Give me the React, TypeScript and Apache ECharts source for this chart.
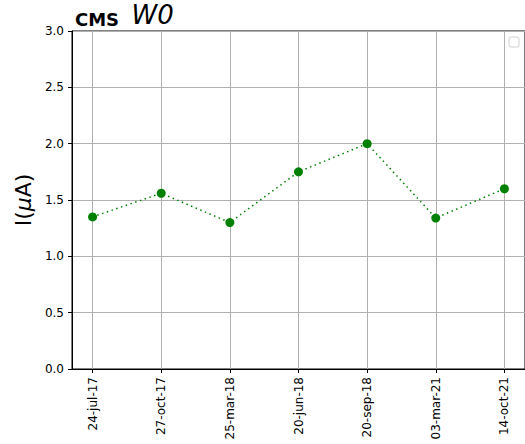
import React, { useEffect, useRef } from "react";
import * as echarts from "echarts";

const categories = ["24-jul-17", "27-oct-17", "25-mar-18", "20-jun-18", "20-sep-18", "03-mar-21", "14-oct-21"];
const values = [1.35, 1.56, 1.3, 1.75, 2.0, 1.34, 1.6];
const yTicks = [0, 0.5, 1.0, 1.5, 2.0, 2.5, 3.0];

export default function App() {
  const ref = useRef<HTMLDivElement>(null);
  useEffect(() => {
    document.body.style.margin = "0";
    if (!ref.current) return;
    const chart = echarts.init(ref.current, null, { renderer: "svg" });
    const idx = categories.map((_, i) => i);
    chart.setOption({
      animation: false,
      textStyle: { fontFamily: "DejaVu Sans" },
      title: {
        text: "{a|CMS}  {b|W0}",
        left: 75,
        top: 2,
        padding: 0,
        textStyle: {
          rich: {
            a: { fontFamily: "DejaVu Sans", fontWeight: "bold", fontSize: 18, color: "#000", verticalAlign: "bottom" },
            b: { fontFamily: "DejaVu Sans", fontStyle: "italic", fontWeight: "normal", fontSize: 26, color: "#000", verticalAlign: "bottom" },
          },
        },
      },
      grid: { left: 72, right: -1, top: 31, bottom: 75, show: true, borderColor: "#000", borderWidth: 1 },
      xAxis: {
        type: "value",
        min: -0.3,
        max: 6.3,
        axisLine: { show: true, onZero: false, lineStyle: { color: "#000" } },
        axisTick: { show: true, customValues: idx, length: 4, lineStyle: { color: "#000" } },
        axisLabel: {
          customValues: idx,
          rotate: 90,
          fontSize: 12,
          color: "#000",
          margin: 8,
          formatter: (v: number) => categories[Math.round(v)] ?? "",
        },
        splitLine: { show: true, lineStyle: { color: "#b0b0b0", width: 1 } },
      },
      yAxis: {
        type: "value",
        min: 0,
        max: 3,
        interval: 0.5,
        name: "{n|I(}{i|μ}{n|A)}",
        nameLocation: "middle",
        nameGap: 38,
        nameTextStyle: {
          rich: {
            n: { fontSize: 22, color: "#000", fontFamily: "DejaVu Sans" },
            i: { fontSize: 22, color: "#000", fontFamily: "DejaVu Sans", fontStyle: "italic" },
          },
        },
        axisLine: { show: true, onZero: false, lineStyle: { color: "#000" } },
        axisTick: { show: true, length: 4, lineStyle: { color: "#000" } },
        axisLabel: {
          fontSize: 12,
          color: "#000",
          margin: 8,
          formatter: (v: number) => (yTicks.includes(v) ? v.toFixed(1) : ""),
        },
        splitLine: { show: true, lineStyle: { color: "#b0b0b0", width: 1 } },
      },
      series: [
        {
          type: "line",
          data: values.map((v, i) => [i, v]),
          symbol: "circle",
          symbolSize: 9,
          itemStyle: { color: "#008000" },
          lineStyle: { color: "#008000", width: 1.5, type: [1.5, 3.5] },
        },
      ],
      graphic: [
        {
          type: "rect",
          shape: { x: 509, y: 37, width: 10, height: 10, r: 2 },
          style: { fill: "#fff", stroke: "#d0d0d0", lineWidth: 1 },
        },
      ],
    });
    return () => chart.dispose();
  }, []);
  return <div ref={ref} style={{ width: 525, height: 444 }} />;
}
